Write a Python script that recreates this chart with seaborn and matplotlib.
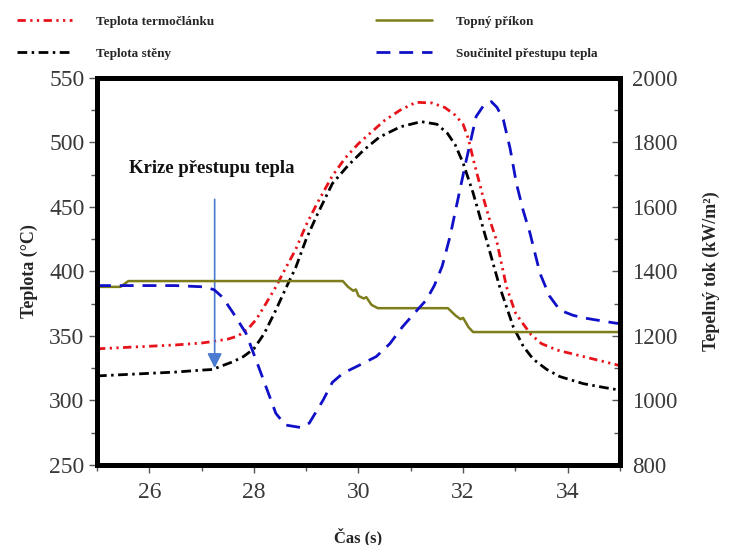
import matplotlib
matplotlib.use("Agg")
import matplotlib.pyplot as plt
import seaborn as sns
from matplotlib.ticker import MultipleLocator

# Teplota termočlánku (°C)
t_red = [25.0, 25.5, 26.0, 26.5, 27.0, 27.2, 27.5, 27.7, 27.9, 28.05, 28.2, 28.42,
         28.6, 28.8, 29.0, 29.2, 29.5, 29.75, 30.0, 30.5, 30.8, 31.1, 31.4, 31.65,
         31.85, 32.0, 32.1, 32.2, 32.38, 32.5, 32.64, 32.83, 33.0, 33.1, 33.3, 33.5,
         33.8, 34.1, 34.5, 35.0]
T_red = [340, 341, 342, 343, 344.5, 345.6, 347.5, 350, 356, 363, 373, 388,
         402, 417, 436, 452, 474, 488, 499, 517, 525, 531, 530.5, 527,
         521, 514, 503, 486, 458, 441, 424, 388, 368, 362, 351, 344,
         339, 336, 332, 327]

# Teplota stěny (°C)
t_blk = [25.0, 25.5, 26.0, 26.5, 27.0, 27.21, 27.4, 27.6, 27.8, 28.0, 28.2, 28.42,
         28.6, 28.8, 29.0, 29.2, 29.5, 29.8, 30.1, 30.4, 30.8, 31.2, 31.5, 31.7,
         31.85, 32.0, 32.19, 32.45, 32.7, 32.96, 33.15, 33.34, 33.6, 33.85, 34.3,
         34.7, 35.0]
T_blk = [319, 320, 321, 322, 323.5, 324, 327, 330, 334, 340, 352, 370,
         386, 403, 425, 443, 468, 482, 494, 504, 512, 516, 514, 507,
         498, 484, 461, 424, 388, 357, 342, 332, 324, 318.5, 313,
         310, 308]

# Topný příkon (pravá osa)
t_grn = [25.0, 25.45, 25.6, 29.7, 29.8, 29.9, 29.95, 30.0, 30.1, 30.15, 30.25, 30.37,
         31.71, 31.85, 31.95, 32.0, 32.1, 32.19, 35.0]
q_grn = [1352, 1352, 1370, 1370, 1352, 1340, 1344, 1324, 1316, 1320, 1296, 1286,
         1286, 1264, 1252, 1256, 1228, 1212, 1212]

# Součinitel přestupu tepla (pravá osa)
t_blu = [25.0, 26.5, 27.05, 27.24, 27.4, 27.6, 27.85, 28.1, 28.42, 28.6, 28.9, 29.06,
         29.32, 29.5, 29.7, 30.0, 30.34, 30.6, 30.84, 31.1, 31.3, 31.45, 31.6, 31.75,
         31.87, 32.06, 32.25, 32.4, 32.54, 32.65, 32.77, 32.9, 33.02, 33.15, 33.28,
         33.47, 33.65, 33.85, 34.1, 34.3, 34.6, 34.9, 35.0]
q_blu = [1356, 1356, 1352, 1343, 1320, 1272, 1208, 1100, 960, 924, 916, 930,
         1000, 1056, 1084, 1108, 1136, 1176, 1228, 1276, 1312, 1356, 1416, 1508,
         1600, 1744, 1880, 1916, 1926, 1908, 1870, 1780, 1672, 1588, 1518,
         1394, 1324, 1280, 1264, 1256, 1248, 1240, 1238]

sns.set_style("white")
plt.rcParams['font.family'] = ['Liberation Serif', 'DejaVu Serif']

fig = plt.figure(figsize=(7.38, 5.45), dpi=100)
ax = fig.add_axes([0.1314, 0.1468, 0.7087, 0.7105])
ax2 = ax.twinx()

# čáry
sns.lineplot(x=t_red, y=T_red, ax=ax, color='#e8131a', lw=2, estimator=None,
             linestyle=(0, (3, 1.6, 0.8, 1.6, 0.8, 1.6)), label='Teplota termočlánku', legend=False)
sns.lineplot(x=t_blk, y=T_blk, ax=ax, color='black', lw=2, estimator=None,
             linestyle=(0, (3.5, 1.6, 0.9, 1.6)), label='Teplota stěny', legend=False)
sns.lineplot(x=t_grn, y=q_grn, ax=ax2, color='#7d7d1c', lw=1.8, estimator=None,
             label='Topný příkon', legend=False)
sns.lineplot(x=t_blu, y=q_blu, ax=ax2, color='#1010c8', lw=2, estimator=None,
             linestyle=(0, (5, 3.2)), label='Součinitel přestupu tepla', legend=False)

ax.set_xlim(25, 35)
ax.set_ylim(250, 550)
ax2.set_ylim(800, 2000)
ax.xaxis.set_major_locator(MultipleLocator(2))
ax.xaxis.set_minor_locator(MultipleLocator(1))
ax.yaxis.set_major_locator(MultipleLocator(50))
ax.yaxis.set_minor_locator(MultipleLocator(25))
ax2.yaxis.set_major_locator(MultipleLocator(200))
ax2.yaxis.set_minor_locator(MultipleLocator(100))
ax.set_xticks([26, 28, 30, 32, 34])

for a in (ax, ax2):
    for s in a.spines.values():
        s.set_linewidth(3.6)
        s.set_color('black')

tick_col = '#3a3a3a'
ax.tick_params(axis='both', which='major', direction='out', length=6, width=1,
               color='#555555', labelsize=17, labelcolor=tick_col, pad=3)
ax.tick_params(axis='x', which='major', pad=6)
ax.tick_params(axis='both', which='minor', direction='out', length=4, width=1, color='#555555')
ax.tick_params(axis='x', bottom=True, top=False, which='both')
ax.tick_params(axis='y', left=True, right=False, which='both')
ax2.tick_params(axis='y', which='major', direction='in', length=6, width=1,
                color='#555555', labelsize=16.5, labelcolor=tick_col, pad=9)
ax2.tick_params(axis='y', which='minor', direction='in', length=4, width=1, color='#555555')

ax.set_xlabel('Čas (s)', fontsize=12, fontweight='bold', labelpad=18)
ax.set_ylabel('Teplota (°C)', fontsize=13, fontweight='bold', labelpad=8)
ax2.set_ylabel('Tepelný tok (kW/m²)', fontsize=13, fontweight='bold', labelpad=18)

# šipka a popisek
ax.annotate('', xy=(27.25, 323), xytext=(27.25, 458),
            arrowprops=dict(arrowstyle='-|>', color='#4a7bd0', lw=1.2, mutation_scale=22))
ax.text(27.2, 480, 'Krize přestupu tepla', fontsize=13.5, fontweight='bold',
        ha='center', va='center', color='#111111')

h1, l1 = ax.get_legend_handles_labels()
h2, l2 = ax2.get_legend_handles_labels()
fig.legend(h1 + h2, l1 + l2, loc='upper left', bbox_to_anchor=(0.003, 0.998), ncol=2,
           frameon=False, prop={'size': 9.5, 'weight': 'bold'}, handlelength=4.2,
           handletextpad=1.8, columnspacing=12.3, labelspacing=1.5, borderpad=0.6)

fig.savefig('out.png', dpi=100)
